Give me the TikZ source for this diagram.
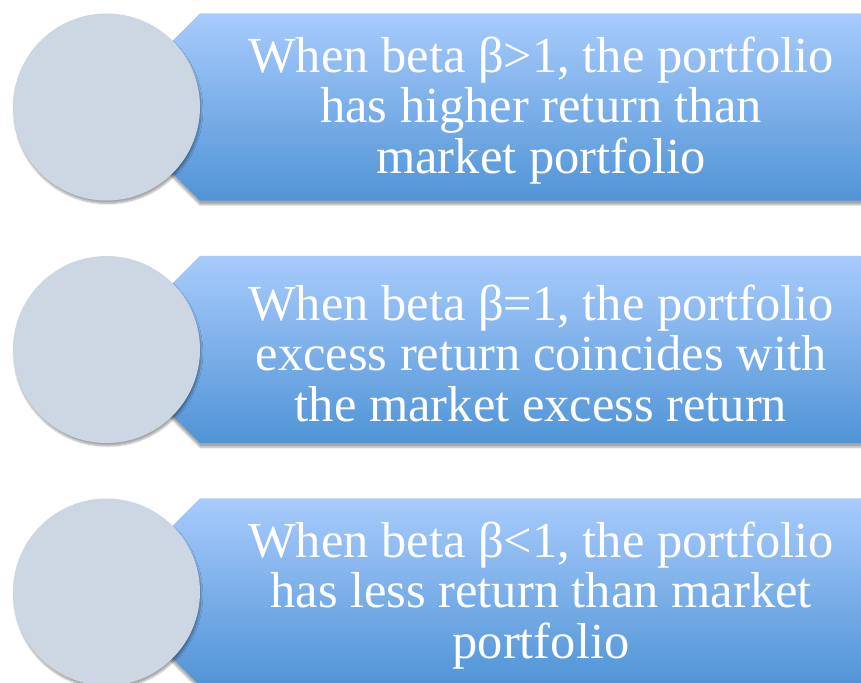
\documentclass[tikz,border=0pt]{standalone}
\usepackage{fontspec}
\setmainfont{Liberation Serif}
\usetikzlibrary{shapes,shadows.blur,backgrounds}

\definecolor{bannertop}{RGB}{168,203,252}
\definecolor{bannerbottom}{RGB}{80,148,214}
\definecolor{discgray}{RGB}{205,215,228}

\begin{document}
\begin{tikzpicture}[x=1pt,y=1pt,node distance=242.5pt]
  \tikzstyle{disc}=[circle,fill=discgray,draw=none,minimum size=187pt,inner sep=0pt,
                    blur shadow={shadow xshift=1pt,shadow yshift=-3pt,shadow blur steps=6,shadow opacity=35}]
  \tikzstyle{banner}=[top color=bannertop,bottom color=bannerbottom,draw=none,
                    blur shadow={shadow xshift=0pt,shadow yshift=-4pt,shadow blur steps=6,shadow opacity=35}]
  \tikzstyle{caption}=[text=white,align=center,inner sep=0pt,font=\fontsize{50.5}{50.5}\selectfont]

  \useasboundingbox (0,0) rectangle (861,-682);

  \node[disc] (A) at (106.5,-107) {};
  \node[disc] (B) [below of=A] {};
  \node[disc] (C) [below of=B] {};

  \begin{pgfonlayer}{background}
  \foreach \n in {A,B,C}
    \path[banner] ([xshift=93.5pt]\n.north) -- (\n.center) -- ([xshift=93.5pt]\n.south)
                  -- ([xshift=780pt]\n.south) -- ([xshift=780pt]\n.north) -- cycle;
  \end{pgfonlayer}

  \node[caption] (tA) at ([xshift=434.5pt,yshift=-3.5pt]A.center)
        {When beta β>1, the portfolio\\has higher return than\\market portfolio};
  \node[caption] (tB) at ([xshift=434.5pt,yshift=-3.5pt]B.center)
        {When beta β=1, the portfolio\\excess return coincides with\\the market excess return};
  \node[caption] (tC) at ([xshift=434.5pt,yshift=-3.5pt]C.center)
        {When beta β<1, the portfolio\\has less return than market\\portfolio};
\end{tikzpicture}
\end{document}
